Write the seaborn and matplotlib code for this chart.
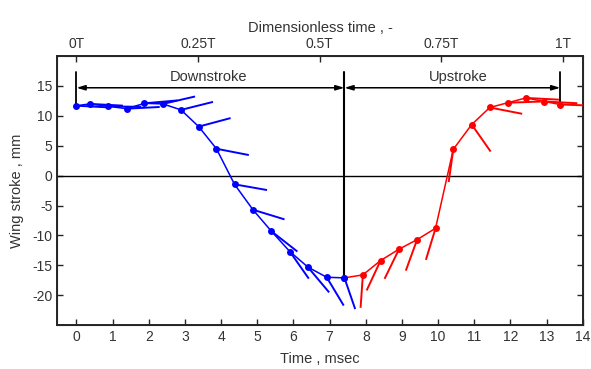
import numpy as np
import pandas as pd
import matplotlib
matplotlib.use("Agg")
import matplotlib.pyplot as plt
import seaborn as sns

# downstroke (blue) : time [msec], wing stroke [mm], chord angle [deg, on screen]
down_t = [0.0, 0.37, 0.88, 1.39, 1.88, 2.39, 2.89, 3.38, 3.87, 4.37, 4.88, 5.39, 5.90, 6.40, 6.92, 7.41]
down_y = [11.7, 12.0, 11.6, 11.2, 12.1, 12.0, 11.0, 8.2, 4.5, -1.45, -5.7, -9.3, -12.7, -15.3, -17.0, -17.1]
down_ang = [-3, -3, -1, 3, 5, 13, 14, 15, -11, -10, -17, -38, -55, -50, -59, -71]

# upstroke (red), first point is the turn-over point shared with the downstroke
up_t = [7.41, 7.92, 8.41, 8.92, 9.42, 9.93, 10.42, 10.93, 11.43, 11.93, 12.43, 12.94, 13.38]
up_y = [-17.1, -16.6, -14.2, -12.3, -10.7, -8.8, 4.4, 8.55, 11.4, 12.2, 13.0, 12.4, 11.9]
up_ang = [np.nan, -94, -115, -116, -110, -107, -98, -55, -11, 2, -3, -3, -2]

period = 13.45
top_fracs = [0, 0.25, 0.5, 0.75, 1]
top_labels = ["0T", "0.25T", "0.5T", "0.75T", "1T"]
stroke_ends = [0.0, 7.41, 13.38]

sns.set_style("ticks")
plt.rcParams["font.family"] = ["Liberation Sans", "DejaVu Sans"]
plt.rcParams["axes.unicode_minus"] = False
txt = "#333333"

fig = plt.figure(figsize=(5.91, 3.69), dpi=100)
ax = fig.add_axes([0.097, 0.119, 0.889, 0.729])
ax.set_xlim(-0.53, 14.0)
ax.set_ylim(-25, 20)

down = pd.DataFrame({"t": down_t, "y": down_y})
up = pd.DataFrame({"t": up_t, "y": up_y})

ax.axhline(0, color="black", lw=1.0, zorder=1)

sns.lineplot(data=up, x="t", y="y", sort=False, color="#ff0000", lw=1.1,
             marker="o", markersize=5, markeredgewidth=0, ax=ax, zorder=3)
sns.lineplot(data=down, x="t", y="y", sort=False, color="#0000ff", lw=1.1,
             marker="o", markersize=5, markeredgewidth=0, ax=ax, zorder=4)

# chord lines, fixed on-screen length
fig.canvas.draw()
tr = ax.transData
inv = tr.inverted()
chord_px = 33
for ts, ys, angs, col in [(down_t, down_y, down_ang, "#0000ff"), (up_t, up_y, up_ang, "#ff0000")]:
    for t, y, a in zip(ts, ys, angs):
        if np.isnan(a):
            continue
        p0 = tr.transform((t, y))
        p1 = p0 + chord_px * np.array([np.cos(np.radians(a)), np.sin(np.radians(a))])
        q = inv.transform(p1)
        ax.plot([t, q[0]], [y, q[1]], color=col, lw=1.4, zorder=3, solid_capstyle="butt")

# stroke markers and arrows
ax.plot([stroke_ends[0]] * 2, [17.3, down_y[0]], color="black", lw=1.3, zorder=2)
ax.plot([stroke_ends[1]] * 2, [17.3, down_y[-1]], color="black", lw=1.5, zorder=2)
ax.plot([stroke_ends[2]] * 2, [17.3, up_y[-1]], color="black", lw=1.3, zorder=2)
for a, b, name in [(stroke_ends[0], stroke_ends[1], "Downstroke"), (stroke_ends[1], stroke_ends[2], "Upstroke")]:
    ax.annotate("", xy=(b, 14.7), xytext=(a, 14.7),
                arrowprops=dict(arrowstyle="<|-|>,head_length=0.5,head_width=0.15",
                                color="black", lw=1.1, shrinkA=0, shrinkB=0))
    ax.text((a + b) / 2 - 0.05 + (0.2 if name == "Upstroke" else 0), 16.5, name,
            ha="center", va="center", fontsize=10.5, color=txt)

ax.set_xticks(range(0, 15))
ax.set_yticks(range(-20, 16, 5))
ax.tick_params(direction="in", length=4, width=1, labelsize=10, labelcolor=txt,
               right=True, top=False)
ax.set_xlabel("Time , msec", fontsize=10.5, color=txt, labelpad=6)
ax.set_ylabel("Wing stroke , mm", fontsize=10.5, color=txt, labelpad=6)
for s in ax.spines.values():
    s.set_linewidth(1.4)
    s.set_visible(True)

top = ax.twiny()
top.set_xlim(ax.get_xlim())
top.set_xticks([f * period for f in top_fracs])
top.set_xticklabels(top_labels)
top.tick_params(direction="in", length=4, width=1, labelsize=10, labelcolor=txt)
top.set_xlabel("Dimensionless time , -", fontsize=10.5, color=txt, labelpad=4)

fig.savefig("out.png", dpi=100)
